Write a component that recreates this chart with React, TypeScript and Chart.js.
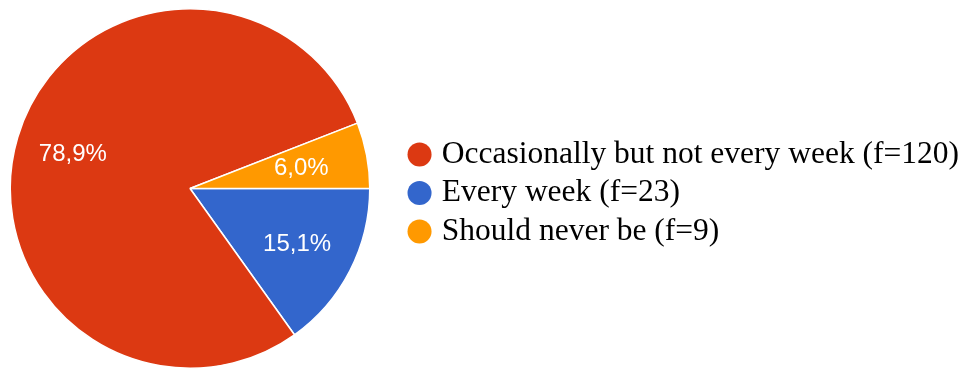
import React, { useEffect, useRef } from 'react';
import { Chart, registerables } from 'chart.js';

Chart.register(...registerables);

// Categories in legend order
const categories = [
  'Occasionally but not every week (f=120)',
  'Every week (f=23)',
  'Should never be (f=9)',
];
const frequencies = [120, 23, 9];
const percentLabels = ['78,9%', '15,1%', '6,0%'];
const sliceColors = ['#DC3912', '#3366CC', '#FF9900'];
// clockwise drawing order starting at 3 o'clock (indices into the arrays above)
const sliceOrder = [1, 0, 2];

// label distance from centre as a fraction of the radius, per category
const labelRadius = [0.68, 0.67, 0.63];

const sliceLabelPlugin = {
  id: 'sliceLabels',
  afterDatasetsDraw(chart: any) {
    const meta = chart.getDatasetMeta(0);
    const ctx = chart.ctx;
    ctx.save();
    ctx.fillStyle = '#ffffff';
    ctx.font = '24px "Liberation Sans", Arial, sans-serif';
    ctx.textAlign = 'center';
    ctx.textBaseline = 'middle';
    meta.data.forEach((arc: any, i: number) => {
      const p = arc.getProps(['x', 'y', 'startAngle', 'endAngle', 'outerRadius'], true);
      const cat = sliceOrder[i];
      const mid = (p.startAngle + p.endAngle) / 2;
      const r = p.outerRadius * labelRadius[cat];
      ctx.fillText(percentLabels[cat], p.x + Math.cos(mid) * r, p.y + Math.sin(mid) * r + 1);
    });
    ctx.restore();
  },
};

export default function App() {
  const ref = useRef<HTMLCanvasElement | null>(null);
  useEffect(() => {
    if (!ref.current) return;
    const baseGen = (Chart as any).overrides.doughnut.plugins.legend.labels.generateLabels;
    const chart = new Chart(ref.current, {
      type: 'pie',
      data: {
        labels: sliceOrder.map((i) => categories[i]),
        datasets: [
          {
            data: sliceOrder.map((i) => frequencies[i]),
            backgroundColor: sliceOrder.map((i) => sliceColors[i]),
            borderColor: '#ffffff',
            borderWidth: 1.5,
          },
        ],
      },
      options: {
        animation: false,
        responsive: true,
        maintainAspectRatio: false,
        rotation: 90,
        layout: { padding: { top: 8, bottom: 3, left: 0, right: 0 } },
        plugins: {
          tooltip: { enabled: false },
          legend: {
            position: 'right',
            maxWidth: 800,
            title: { display: true, text: '', padding: 0, font: { size: 7.5 } },
            labels: {
              usePointStyle: true,
              pointStyle: 'circle',
              boxWidth: 13,
              boxHeight: 17,
              padding: 7,
              color: '#000000',
              font: { family: '"Liberation Serif", "Times New Roman", serif', size: 31.5 },
              sort: (a: any, b: any) => sliceOrder[a.index] - sliceOrder[b.index],
              generateLabels: (c: any) =>
                baseGen(c).map((it: any) => ({ ...it, lineWidth: 0, strokeStyle: 'rgba(0,0,0,0)' })),
            },
          },
        },
      } as any,
      plugins: [sliceLabelPlugin],
    });
    return () => chart.destroy();
  }, []);
  return (
    <div style={{ position: 'fixed', left: 0, top: 0, width: 964, height: 372, overflow: 'hidden' }}>
      <div style={{ position: 'absolute', left: -26, top: 0, width: 995, height: 372 }}>
        <canvas ref={ref} />
      </div>
    </div>
  );
}
